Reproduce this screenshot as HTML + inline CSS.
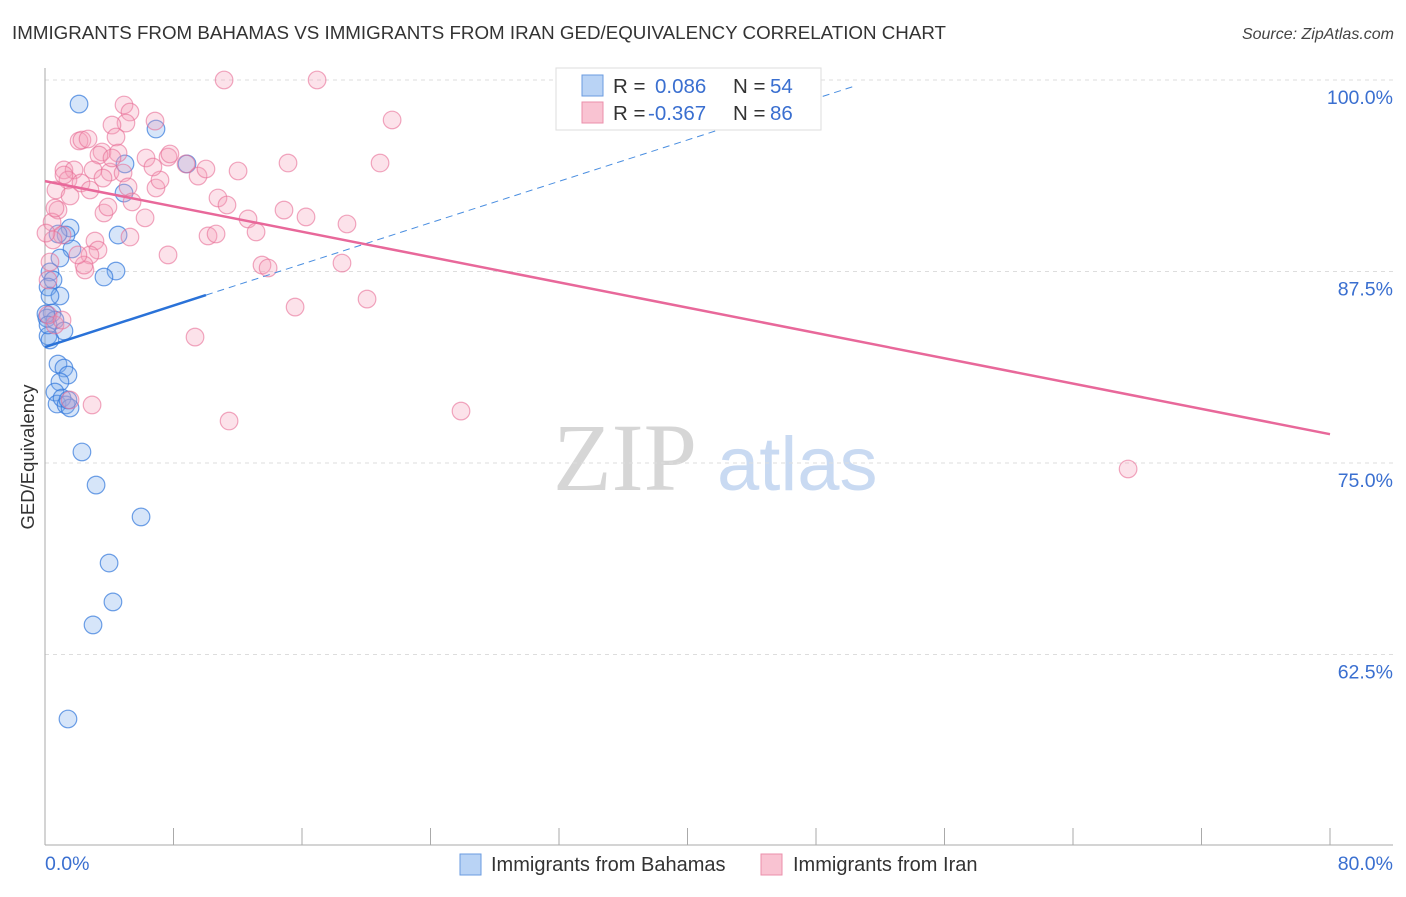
<!DOCTYPE html>
<html><head><meta charset="utf-8"><style>
body{margin:0;background:#fff;width:1406px;height:892px;overflow:hidden;font-family:"Liberation Sans",sans-serif}
</style></head><body>
<svg id="chart" width="1406" height="892" xmlns="http://www.w3.org/2000/svg" font-family="Liberation Sans, sans-serif">
<text x="12" y="39" font-size="18.6" fill="#333" textLength="934" lengthAdjust="spacingAndGlyphs">IMMIGRANTS FROM BAHAMAS VS IMMIGRANTS FROM IRAN GED/EQUIVALENCY CORRELATION CHART</text>
<text x="1394" y="39" font-size="16" fill="#444" text-anchor="end" font-style="italic">Source: ZipAtlas.com</text>
<g>
<text x="553" y="490" font-size="96" fill="#d6d6d6" font-family="Liberation Serif, serif">ZIP</text>
<text x="717" y="490" font-size="76" fill="#c9daf2">atlas</text>
</g>
<g id="grid"></g>
<g id="axes"></g>
<g id="dots"></g>
<g id="trend"></g>
<text transform="translate(34,457) rotate(-90)" font-size="18.5" fill="#333" text-anchor="middle">GED/Equivalency</text>
<g>
<rect x="556" y="68" width="265" height="62" fill="#fff" stroke="#ddd"/>
<rect x="582" y="75" width="21" height="21" fill="#b9d3f5" stroke="#6a9be0"/>
<rect x="582" y="102" width="21" height="21" fill="#f9c3d2" stroke="#eb8fab"/>
<text x="613" y="93" font-size="20.5" fill="#333">R =</text>
<text x="655" y="93" font-size="20.5" fill="#3a6fd0">0.086</text>
<text x="733" y="93" font-size="20.5" fill="#333">N =</text>
<text x="770" y="93" font-size="20.5" fill="#3a6fd0">54</text>
<text x="613" y="120" font-size="20.5" fill="#333">R =</text>
<text x="648" y="120" font-size="20.5" fill="#3a6fd0">-0.367</text>
<text x="733" y="120" font-size="20.5" fill="#333">N =</text>
<text x="770" y="120" font-size="20.5" fill="#3a6fd0">86</text>
</g>
<g>
<rect x="460" y="854" width="21" height="21" fill="#b9d3f5" stroke="#6a9be0"/>
<text x="491" y="871" font-size="20" fill="#333">Immigrants from Bahamas</text>
</g>
<g>
<rect x="761" y="854" width="21" height="21" fill="#f9c3d2" stroke="#eb8fab"/>
<text x="793" y="871" font-size="20" fill="#333">Immigrants from Iran</text>
</g>
</svg>
<script>
const yTicks=[100,87.5,75,62.5];
const yTickLabels=["100.0%","87.5%","75.0%","62.5%"];
const xTickVals=[0,8,16,24,32,40,48,56,64,72,80];
const bahamasX=[2.12,6.91,8.84,4.98,4.92,4.55,1.56,1.31,0.81,1.68,0.93,4.42,3.67,0.31,0.50,0.19,0.93,0.31,0.44,0.12,0.62,1.18,0.19,0.31,0.81,1.18,1.43,0.93,0.62,0.75,1.06,1.31,1.56,1.43,2.30,3.18,5.98,3.99,4.23,2.99,1.43,0.06,0.19];
const bahamasY=[98.43,96.80,94.52,94.52,92.62,89.88,90.34,89.88,89.95,88.97,88.38,87.53,87.14,87.47,86.95,86.49,85.90,85.90,84.79,84.46,84.33,83.62,83.29,83.03,81.46,81.20,80.74,80.29,79.63,78.85,79.24,78.79,78.59,79.11,75.72,73.56,71.48,68.47,65.93,64.43,58.29,84.73,84.01];
const iranX=[11.15,16.94,21.61,4.92,5.29,6.85,5.04,4.17,4.42,2.12,2.30,2.68,3.55,3.36,4.55,6.29,7.66,7.78,8.78,12.02,15.13,20.86,1.18,1.81,2.99,1.43,2.24,4.05,4.86,6.91,7.16,9.53,10.02,5.17,0.68,1.56,2.80,10.77,11.33,5.42,3.67,3.92,14.88,16.25,12.64,18.80,0.81,0.44,0.62,13.14,10.15,10.65,5.29,3.11,3.30,1.06,0.50,2.80,7.66,13.51,13.89,18.49,2.49,2.43,0.31,0.19,20.05,15.57,9.34,2.93,11.46,25.90,67.43,0.62,0.19,1.06,0.06,1.18,6.23,6.72,4.17,3.61,2.05,1.56];
const iranY=[100.0,100.0,97.39,98.37,97.91,97.32,97.19,97.06,96.28,96.02,96.08,96.15,95.30,95.10,95.23,94.91,94.97,95.17,94.52,94.06,94.58,94.58,94.13,94.13,94.13,93.47,93.28,93.99,93.93,92.95,93.47,93.73,94.19,93.02,92.82,92.43,92.82,92.30,91.84,92.04,91.32,91.71,91.51,91.06,90.93,90.60,91.51,90.73,91.64,90.08,89.82,89.95,89.75,89.49,88.90,89.88,89.56,88.58,88.58,87.92,87.73,88.05,87.60,87.92,88.12,86.95,85.70,85.18,83.22,78.79,77.74,78.39,74.61,84.01,84.66,84.33,90.01,93.80,91.00,94.32,94.91,93.60,88.58,79.11];
const bahamasTrend=[0,82.57,10.02,85.96,50.4,99.6];
const iranTrend=[0,93.4,80,76.88];
const NS="http://www.w3.org/2000/svg";
const X=v=>45+v*(1285/80);
const Y=v=>80+(100-v)*15.32;
function mk(tag,attrs,parent){const e=document.createElementNS(NS,tag);for(const k in attrs)e.setAttribute(k,attrs[k]);parent.appendChild(e);return e;}
const grid=document.getElementById('grid'),axes=document.getElementById('axes'),dots=document.getElementById('dots'),trend=document.getElementById('trend');
yTicks.forEach((t,i)=>{
 const l=mk('line',{x1:45,x2:1393,y1:Y(t),y2:Y(t),stroke:'#ddd','stroke-dasharray':'4,4'},grid);
 
 
 const tx=mk('text',{x:1393,y:Y(t)+24,'font-size':19.5,fill:'#3a6fd0','text-anchor':'end'},axes);
 tx.textContent=yTickLabels[i];
 
 
});
const ya=mk('line',{x1:45,x2:45,y1:68,y2:845,stroke:'#aaa'},axes);


const xa=mk('line',{x1:45,x2:1393,y1:845,y2:845,stroke:'#aaa'},axes);


xTickVals.forEach(v=>{
 const t=mk('line',{x1:X(v),x2:X(v),y1:828,y2:845,stroke:'#aaa'},axes);
 
 
});
const xl0=mk('text',{x:45,y:870,'font-size':19.5,fill:'#3a6fd0'},axes);xl0.textContent='0.0%';


const xl1=mk('text',{x:1393,y:870,'font-size':19.5,fill:'#3a6fd0','text-anchor':'end'},axes);xl1.textContent='80.0%';


bahamasX.forEach((x,i)=>{
 const c=mk('circle',{cx:X(x),cy:Y(bahamasY[i]),r:8.8,fill:'rgba(120,170,235,0.3)',stroke:'rgba(50,120,220,0.7)','stroke-width':1.2},dots);
 
 
});
iranX.forEach((x,i)=>{
 const c=mk('circle',{cx:X(x),cy:Y(iranY[i]),r:8.8,fill:'rgba(245,160,185,0.3)',stroke:'rgba(232,110,150,0.6)','stroke-width':1.2},dots);
 
 
});
const bs=mk('line',{x1:X(bahamasTrend[0]),y1:Y(bahamasTrend[1]),x2:X(bahamasTrend[2]),y2:Y(bahamasTrend[3]),stroke:'#2a72d8','stroke-width':2.5},trend);


const bd=mk('line',{x1:X(bahamasTrend[2]),y1:Y(bahamasTrend[3]),x2:X(bahamasTrend[4]),y2:Y(bahamasTrend[5]),stroke:'#4a8ee0','stroke-width':1,'stroke-dasharray':'7,5'},trend);


const it=mk('line',{x1:X(iranTrend[0]),y1:Y(iranTrend[1]),x2:X(iranTrend[2]),y2:Y(iranTrend[3]),stroke:'#e8689a','stroke-width':2.5},trend);


</script>
</body></html>
